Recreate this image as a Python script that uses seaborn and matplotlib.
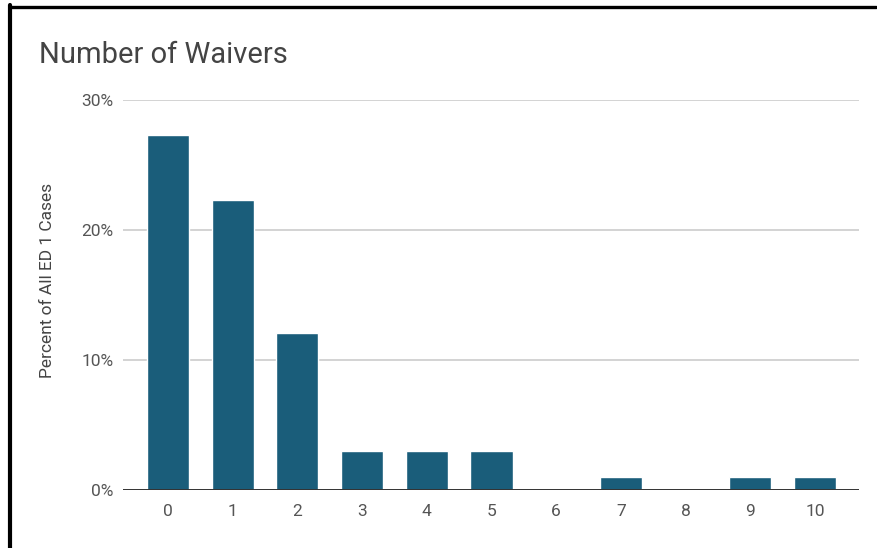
import matplotlib
matplotlib.use("Agg")
import matplotlib.pyplot as plt
from matplotlib.lines import Line2D
from matplotlib.ticker import FuncFormatter
import seaborn as sns
import pandas as pd

# Share of all ED 1 cases by number of waivers
waivers = ["0", "1", "2", "3", "4", "5", "6", "7", "8", "9", "10"]
percent = [27.3, 22.3, 12.1, 3.0, 3.0, 3.0, 0.0, 1.0, 0.0, 1.0, 1.0]
y_ticks = [0, 10, 20, 30]

df = pd.DataFrame({"waivers": waivers, "percent": percent})

sns.set_theme(style="white")
plt.rcParams["font.family"] = ["Roboto", "DejaVu Sans"]

W, H = 878, 548
fig = plt.figure(figsize=(W / 100, H / 100), dpi=100)
ax = fig.add_axes([123 / W, 1 - 490 / H, (859 - 123) / W, (490 - 100) / H])

bar_color = "#1a5d7a"
sns.barplot(data=df, x="waivers", y="percent", order=waivers, color=bar_color,
            width=0.65, saturation=1, ax=ax, zorder=3)

ax.set_xlim(-0.695, 10.68)
ax.set_ylim(0, 30)
ax.set_yticks(y_ticks)
ax.yaxis.set_major_formatter(FuncFormatter(lambda v, p: f"{v:.0f}%"))
ax.grid(axis="y", color="#cccccc", linewidth=1.2, zorder=0)
ax.grid(axis="x", visible=False)
ax.axhline(0, color="#333333", linewidth=1.4, zorder=4)

for s in ax.spines.values():
    s.set_visible(False)

ax.tick_params(axis="both", length=0, labelsize=12.5, labelcolor="#555555")
ax.tick_params(axis="y", pad=7)
ax.tick_params(axis="x", pad=10)

ax.set_xlabel("")
ax.set_ylabel("Percent of All ED 1 Cases", fontsize=12.5, color="#444444")
ax.yaxis.set_label_coords((55 - 123) / (859 - 123), (490 - 280) / 390)

fig.text(39 / W, 1 - 63 / H, "Number of Waivers", fontsize=21, color="#444444",
         ha="left", va="baseline")

# frame lines along the top and left edges
fig.add_artist(Line2D([10 / W, 876 / W], [1 - 6.5 / H, 1 - 6.5 / H],
                      transform=fig.transFigure, color="black", linewidth=2.4))
fig.add_artist(Line2D([10 / W, 10 / W], [1 - 5 / H, 0],
                      transform=fig.transFigure, color="black", linewidth=3.0))

fig.savefig("out.png", dpi=100, facecolor="white")
